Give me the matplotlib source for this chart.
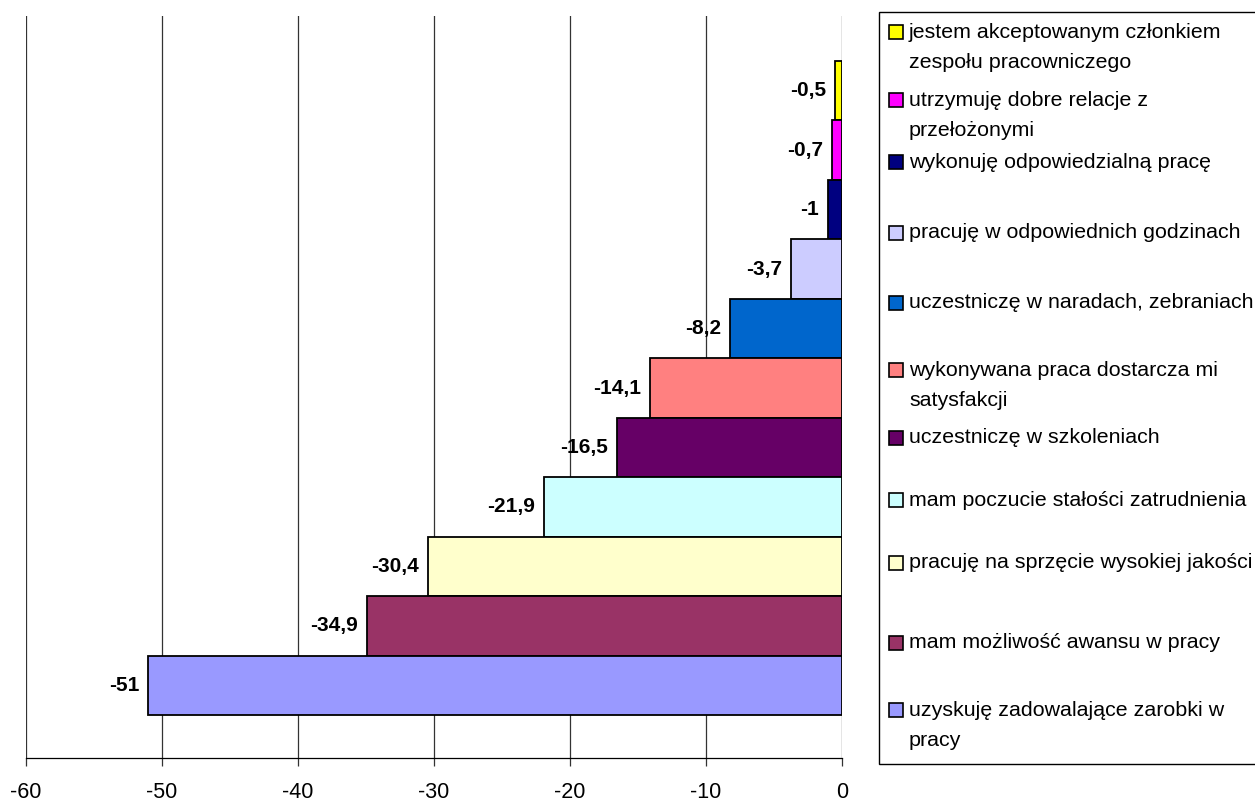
import matplotlib
matplotlib.use("Agg")
import matplotlib.pyplot as plt
from matplotlib.patches import Rectangle

plt.rcParams['font.family'] = ['Liberation Sans', 'DejaVu Sans']

# Series, listed from the top bar downwards
labels = [
    "jestem akceptowanym członkiem\nzespołu pracowniczego",
    "utrzymuję dobre relacje z\nprzełożonymi",
    "wykonuję odpowiedzialną pracę",
    "pracuję w odpowiednich godzinach",
    "uczestniczę w naradach, zebraniach",
    "wykonywana praca dostarcza mi\nsatysfakcji",
    "uczestniczę w szkoleniach",
    "mam poczucie stałości zatrudnienia",
    "pracuję na sprzęcie wysokiej jakości",
    "mam możliwość awansu w pracy",
    "uzyskuję zadowalające zarobki w\npracy",
]
values = [-0.5, -0.7, -1, -3.7, -8.2, -14.1, -16.5, -21.9, -30.4, -34.9, -51]
colors = ["#FFFF00", "#FF00FF", "#000080", "#CCCCFF", "#0066CC", "#FF8080",
          "#660066", "#CCFFFF", "#FFFFCC", "#993366", "#9999FF"]
xticks = [-60, -50, -40, -30, -20, -10, 0]

W, H = 1255, 802
fig = plt.figure(figsize=(W / 100, H / 100), dpi=100)


def fx(px):
    return px / W


def fy(py):
    return 1 - py / H


ax = fig.add_axes([fx(25.7), fy(758), fx(841.7) - fx(25.7), fy(16) - fy(758)])

n = len(values)
ypos = [n - 1 - i for i in range(n)]
ax.barh(ypos, values, height=1.0, color=colors, edgecolor="black",
        linewidth=1.3, zorder=3)

for y, v in zip(ypos, values):
    txt = f"{v:g}".replace(".", ",")
    ax.annotate(txt, xy=(v, y), xytext=(-6.5, 0), textcoords="offset points",
                ha="right", va="center", fontsize=15, fontweight="bold",
                zorder=4)

ax.set_xlim(-60, 0)
ax.set_ylim(-1.223, n - 0.5 + 0.757)
ax.set_xticks(xticks)
ax.set_xticklabels([str(t) for t in xticks], fontsize=15.5)
ax.set_yticks([])
ax.grid(axis="x", color="#333333", linewidth=0.9, zorder=0)
ax.tick_params(axis="x", direction="out", length=6, width=0.9, pad=11,
               color="#333333")
for side in ("top", "right", "left"):
    ax.spines[side].set_visible(False)
ax.spines["bottom"].set_linewidth(0.9)

# Legend drawn as a boxed list at the right
fig.patches.append(Rectangle((fx(879), fy(764)), fx(1262) - fx(879),
                             fy(12) - fy(764), transform=fig.transFigure,
                             facecolor="white", edgecolor="black",
                             linewidth=1.0, zorder=1))
entry_y = [32, 100, 162, 233, 303, 370, 438, 500, 563, 643, 710]
line_gap = 30
for lab, col, py in zip(labels, colors, entry_y):
    fig.patches.append(Rectangle((fx(889), fy(py + 7)), fx(903) - fx(889),
                                 fy(py - 7) - fy(py + 7),
                                 transform=fig.transFigure, facecolor=col,
                                 edgecolor="black", linewidth=1.2, zorder=2))
    for k, line in enumerate(lab.split("\n")):
        fig.text(fx(909), fy(py + k * line_gap), line, fontsize=15.4,
                 ha="left", va="center", zorder=3)

fig.savefig("out.png", dpi=100)
